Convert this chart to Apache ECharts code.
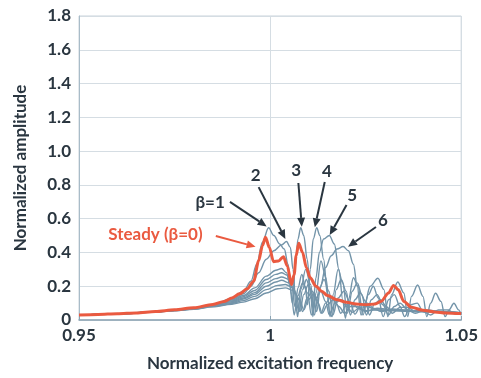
<!DOCTYPE html>
<html><head><meta charset="utf-8">
<script src="https://cdn.jsdelivr.net/npm/echarts@6/dist/echarts.min.js"></script>
<style>html,body{margin:0;padding:0;background:#fff}#c{width:481px;height:378px}</style>
</head><body><div id="c"></div>
<script>
// ---- data ----
const xTickLabels = ['0.95', '1', '1.05'];
const yTickLabels = ['0', '0.2', '0.4', '0.6', '0.8', '1.0', '1.2', '1.4', '1.6', '1.8'];

const steadyX = [0.95,0.955,0.96,0.965,0.97,0.975,0.98,0.985,0.988,0.99,0.992,0.994,0.9957,0.997,0.998,0.9988,0.9998,1.0009,1.0022,1.0035,1.0045,1.0056,1.0063,1.0068,1.0075,1.0085,1.0095,1.0105,1.012,1.0135,1.015,1.0175,1.02,1.0225,1.025,1.0275,1.029,1.031,1.0323,1.0335,1.035,1.037,1.04,1.043,1.046,1.05];
const steadyY = [0.03,0.033,0.037,0.042,0.05,0.06,0.072,0.092,0.11,0.13,0.155,0.185,0.23,0.35,0.44,0.49,0.43,0.345,0.35,0.375,0.32,0.21,0.27,0.38,0.455,0.4,0.31,0.25,0.2,0.17,0.145,0.12,0.105,0.095,0.09,0.095,0.11,0.16,0.205,0.18,0.11,0.075,0.058,0.048,0.042,0.038];

const b1X = [0.95,0.96,0.97,0.975,0.98,0.985,0.99,0.993,0.995,0.9965,0.998,0.9996,1.001,1.0025,1.0037,1.0047,1.0056,1.0063,1.0072,1.0085,1.0098,1.0108,1.012,1.0133,1.0145,1.0155,1.017,1.0185,1.02,1.0215,1.0235,1.0255,1.0275,1.03,1.035,1.04,1.045,1.05];
const b1Y = [0.029,0.036,0.049,0.059,0.071,0.091,0.128,0.17,0.23,0.33,0.46,0.546,0.5,0.45,0.42,0.33,0.15,0.03,0.14,0.22,0.16,0.03,0.13,0.17,0.11,0.03,0.1,0.12,0.08,0.045,0.075,0.08,0.06,0.058,0.056,0.052,0.048,0.044];

const b2X = [0.95,0.96,0.97,0.975,0.98,0.985,0.99,0.993,0.995,0.997,0.999,1.001,1.003,1.0043,1.0053,1.006,1.0067,1.0072,1.008,1.0093,1.0106,1.0116,1.0128,1.0141,1.0154,1.0164,1.0178,1.0193,1.0208,1.0222,1.0238,1.0255,1.027,1.029,1.032,1.035,1.04,1.045,1.05];
const b2Y = [0.029,0.036,0.049,0.058,0.07,0.09,0.122,0.155,0.2,0.28,0.36,0.41,0.445,0.465,0.43,0.3,0.1,0.02,0.18,0.3,0.21,0.03,0.18,0.24,0.17,0.03,0.13,0.17,0.11,0.035,0.09,0.1,0.07,0.05,0.065,0.06,0.052,0.047,0.042];

const b3X = [0.95,0.96,0.97,0.975,0.98,0.985,0.99,0.993,0.996,0.999,1.0015,1.003,1.0043,1.0052,1.0058,1.0066,1.0073,1.008,1.0088,1.0097,1.0106,1.0112,1.012,1.0133,1.0146,1.0156,1.0162,1.0173,1.0186,1.0199,1.021,1.0222,1.0236,1.025,1.026,1.0274,1.0289,1.0304,1.032,1.034,1.036,1.038,1.041,1.045,1.05];
const b3Y = [0.029,0.036,0.048,0.058,0.069,0.088,0.118,0.145,0.19,0.26,0.295,0.305,0.28,0.2,0.1,0.32,0.48,0.546,0.5,0.36,0.15,0.02,0.16,0.35,0.25,0.05,0.02,0.18,0.24,0.17,0.03,0.12,0.16,0.11,0.03,0.1,0.12,0.08,0.04,0.075,0.075,0.05,0.058,0.05,0.042];

const b4X = [0.95,0.96,0.97,0.975,0.98,0.985,0.99,0.993,0.996,0.999,1.0015,1.003,1.0045,1.0057,1.0065,1.0073,1.0083,1.0092,1.0098,1.0105,1.0113,1.0122,1.013,1.014,1.015,1.0157,1.0165,1.0178,1.019,1.0202,1.0215,1.0228,1.024,1.0252,1.0265,1.028,1.0295,1.031,1.0325,1.034,1.036,1.038,1.0405,1.044,1.05];
const b4Y = [0.029,0.036,0.048,0.057,0.068,0.086,0.113,0.138,0.175,0.24,0.27,0.28,0.265,0.2,0.08,0.19,0.27,0.2,0.09,0.3,0.48,0.546,0.5,0.36,0.15,0.02,0.15,0.3,0.22,0.04,0.17,0.22,0.15,0.03,0.12,0.15,0.09,0.03,0.08,0.1,0.06,0.04,0.06,0.052,0.042];

const b5X = [0.95,0.96,0.97,0.975,0.98,0.985,0.99,0.993,0.996,0.999,1.0015,1.003,1.005,1.0065,1.0075,1.0085,1.0095,1.0105,1.0112,1.012,1.0129,1.014,1.0155,1.0168,1.018,1.019,1.0197,1.0205,1.0218,1.023,1.0243,1.0257,1.027,1.0283,1.0296,1.031,1.0325,1.034,1.0352,1.0368,1.0385,1.04,1.042,1.044,1.0465,1.0485,1.05];
const b5Y = [0.029,0.036,0.048,0.057,0.067,0.084,0.108,0.13,0.162,0.22,0.245,0.255,0.24,0.16,0.05,0.18,0.24,0.18,0.07,0.25,0.4,0.48,0.5,0.45,0.3,0.12,0.01,0.12,0.25,0.2,0.03,0.15,0.2,0.13,0.02,0.12,0.15,0.08,0.02,0.09,0.1,0.05,0.03,0.06,0.06,0.035,0.04];

const b6X = [0.95,0.96,0.97,0.975,0.98,0.985,0.99,0.993,0.996,0.999,1.0015,1.003,1.005,1.0068,1.0078,1.0088,1.01,1.0112,1.0122,1.0132,1.0145,1.016,1.0175,1.0191,1.0205,1.0218,1.0228,1.0238,1.0248,1.0262,1.0282,1.0298,1.0308,1.0318,1.0334,1.035,1.036,1.037,1.0386,1.04,1.041,1.042,1.0433,1.0447,1.0458,1.0468,1.0481,1.0493,1.05];
const b6Y = [0.029,0.036,0.047,0.056,0.066,0.082,0.103,0.124,0.152,0.2,0.225,0.235,0.22,0.15,0.05,0.15,0.21,0.15,0.05,0.2,0.31,0.38,0.42,0.435,0.41,0.33,0.2,0.03,0.1,0.2,0.247,0.18,0.02,0.15,0.225,0.16,0.02,0.14,0.207,0.14,0.02,0.1,0.158,0.11,0.02,0.06,0.099,0.06,0.03];

const extraAX = [0.95,0.96,0.97,0.975,0.98,0.985,0.99,0.993,0.996,0.999,1.002,1.004,1.006,1.0075,1.0085,1.0097,1.011,1.0123,1.0133,1.0145,1.016,1.0173,1.0185,1.02,1.0215,1.023,1.025,1.028,1.032,1.036,1.04,1.045,1.05];
const extraAY = [0.029,0.036,0.047,0.056,0.065,0.08,0.098,0.115,0.14,0.18,0.205,0.21,0.19,0.12,0.05,0.13,0.17,0.12,0.04,0.1,0.14,0.1,0.04,0.09,0.1,0.07,0.05,0.07,0.06,0.055,0.05,0.046,0.042];
const extraBX = [0.95,0.96,0.97,0.975,0.98,0.985,0.99,0.993,0.996,0.999,1.002,1.004,1.006,1.0078,1.0088,1.01,1.0113,1.0126,1.0136,1.015,1.0165,1.018,1.0195,1.021,1.0228,1.025,1.028,1.032,1.036,1.04,1.045,1.05];
const extraBY = [0.029,0.036,0.047,0.055,0.064,0.078,0.093,0.106,0.126,0.16,0.185,0.19,0.175,0.12,0.06,0.12,0.15,0.1,0.04,0.09,0.12,0.08,0.04,0.08,0.08,0.055,0.06,0.055,0.052,0.048,0.045,0.041];

// annotation anchors in data coordinates: text centre, arrow start, arrow tip
const notes = [
  {t:'β=1', c:'#2a3640', at:[0.9843,0.693], from:[0.9895,0.699], tip:[0.9991,0.554]},
  {t:'2', c:'#2a3640', at:[0.9962,0.858], from:[0.9970,0.787], tip:[1.0040,0.480]},
  {t:'3', c:'#2a3640', at:[1.0068,0.888], from:[1.0074,0.811], tip:[1.0083,0.552]},
  {t:'4', c:'#2a3640', at:[1.0149,0.878], from:[1.0143,0.817], tip:[1.0117,0.549]},
  {t:'5', c:'#2a3640', at:[1.0215,0.740], from:[1.0200,0.681], tip:[1.0156,0.503]},
  {t:'6', c:'#2a3640', at:[1.0295,0.592], from:[1.0277,0.551], tip:[1.0204,0.434]},
  {t:'Steady (β=0)', c:'#ea5a40', at:[0.9700,0.509], from:[0.9858,0.497], tip:[0.9962,0.434]}
];

const zip = (xs, ys) => xs.map((x, i) => [x, ys[i]]);
const GRAY = '#7394a9';
const RED = '#ea5a40';
const FONT = 'Lato';

function gray(name, xs, ys) {
  return {name, type:'line', data: zip(xs, ys), showSymbol:false, smooth:0.35, smoothMonotone:'x',
    lineStyle:{color:GRAY, width:1.4}, z:2, silent:true, animation:false};
}

const chart = echarts.init(document.getElementById('c'), null, {renderer:'canvas'});
chart.setOption({
  animation:false,
  backgroundColor:'#ffffff',
  grid:{left:79, right:17, top:16, bottom:58, show:true, borderColor:'#c9d3da', borderWidth:1},
  xAxis:{type:'value', min:0.95, max:1.05, interval:0.05,
    name:'Normalized excitation frequency', nameLocation:'middle', nameGap:35,
    nameTextStyle:{fontFamily:FONT, fontSize:17, fontWeight:'bold', color:'#2a3640'},
    axisLine:{lineStyle:{color:'#8aa3b3', width:1.5}},
    axisTick:{show:true, inside:true, length:4, lineStyle:{color:'#8aa3b3'}},
    axisLabel:{fontFamily:FONT, fontSize:17, fontWeight:'bold', color:'#2a3640', margin:7,
      formatter:(v)=>{const i=Math.round((v-0.95)/0.05); return xTickLabels[i]||'';}},
    splitLine:{show:true, lineStyle:{color:'#d5dde3', width:1}}},
  yAxis:{type:'value', min:0, max:1.8, interval:0.2,
    name:'Normalized amplitude', nameLocation:'middle', nameGap:50,
    nameTextStyle:{fontFamily:FONT, fontSize:17, fontWeight:'bold', color:'#2a3640'},
    axisLine:{show:true, lineStyle:{color:'#a9bcc8', width:1}},
    axisTick:{show:false},
    axisLabel:{fontFamily:FONT, fontSize:17, fontWeight:'bold', color:'#2a3640', margin:8,
      formatter:(v)=>{const i=Math.round(v/0.2); return yTickLabels[i]||'';}},
    splitLine:{show:true, lineStyle:{color:'#d5dde3', width:1}}},
  series:[
    gray('extraB', extraBX, extraBY),
    gray('extraA', extraAX, extraAY),
    gray('β=6', b6X, b6Y),
    gray('β=5', b5X, b5Y),
    gray('β=4', b4X, b4Y),
    gray('β=3', b3X, b3Y),
    gray('β=2', b2X, b2Y),
    gray('β=1', b1X, b1Y),
    {name:'Steady (β=0)', type:'line', data: zip(steadyX, steadyY), showSymbol:false, smooth:0.3, smoothMonotone:'x',
      lineStyle:{color:RED, width:3}, z:5, silent:true}
  ]
});

// annotations: text + arrows placed through the chart's coordinate system
const g = [];
notes.forEach(n => {
  const p = chart.convertToPixel({gridIndex:0}, n.at);
  const a = chart.convertToPixel({gridIndex:0}, n.from);
  const b = chart.convertToPixel({gridIndex:0}, n.tip);
  const dx = b[0]-a[0], dy = b[1]-a[1], L = Math.hypot(dx, dy);
  const ux = dx/L, uy = dy/L, hl = 9, hw = 4;
  const bx = b[0]-ux*hl, by = b[1]-uy*hl;
  g.push({type:'text', x:p[0], y:p[1], z:20,
    style:{text:n.t, fill:n.c, font:'bold 17px Lato', align:'center', verticalAlign:'middle'}});
  g.push({type:'line', z:20, shape:{x1:a[0], y1:a[1], x2:bx, y2:by},
    style:{stroke:n.c, lineWidth:2}});
  g.push({type:'polygon', z:20, shape:{points:[[b[0],b[1]],[bx-uy*hw,by+ux*hw],[bx+uy*hw,by-ux*hw]]},
    style:{fill:n.c}});
});
chart.setOption({graphic:g});
</script>
</body></html>
